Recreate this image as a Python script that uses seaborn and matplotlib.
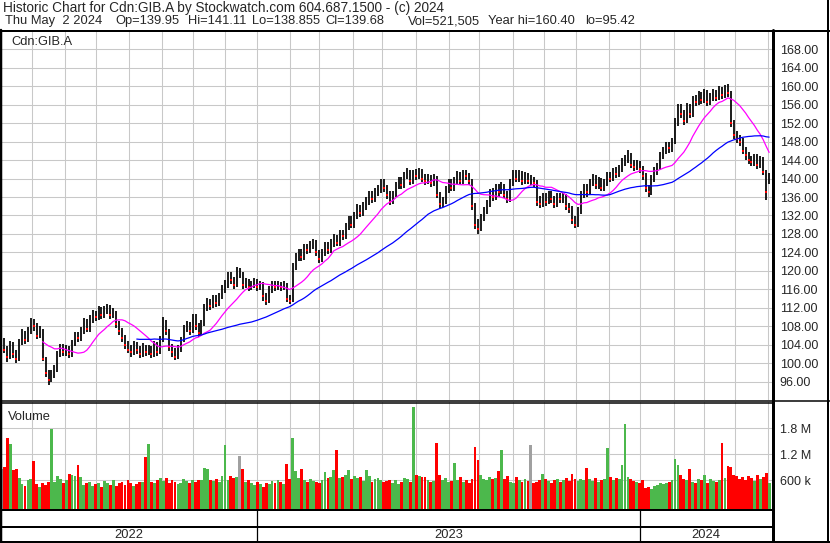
# Stockwatch style historic chart for Cdn:GIB.A (two-day bars)
import numpy as np
import pandas as pd
import seaborn as sns
import matplotlib.pyplot as plt
from matplotlib.lines import Line2D

# === DATA (one bar per two trading days) ===
closes = [
    105, 103, 101.5, 104, 102, 101, 104.5, 106.5, 105, 107,
    109, 108, 106, 107, 101, 98, 96.5, 97.5, 98.5, 102,
    103.5, 102.5, 103, 102, 104.5, 106, 105.5, 107, 109, 107.5,
    109.5, 110.5, 110, 111.5, 110.5, 111.5, 112, 110.5, 111, 108.5,
    107, 105.5, 104, 103, 102.5, 104, 103, 102, 103.5, 102.5,
    103, 102, 104, 102.5, 105, 108.5, 107, 103.5, 102.5, 101.5,
    103, 105, 107.5, 108, 107, 110, 108, 106.5, 108.5, 112,
    113, 112.5, 114, 113, 114.5, 116, 117, 119, 118, 117,
    119.5, 119.5, 117, 117.5, 116.5, 117, 117.5, 116.5, 117, 114.5,
    113.5, 116, 117, 116.5, 117, 116.5, 117, 114, 113.5, 121,
    123, 124, 123, 125, 124.5, 125.5, 126, 124, 122.5, 124,
    125.5, 124.5, 126, 127, 126, 128, 127.5, 129.5, 131, 130,
    132, 133.5, 132.5, 134, 135, 136.5, 135.5, 137, 137.5, 139,
    138, 136.5, 135, 136.5, 138.5, 139.5, 138.5, 140.5, 141, 139.5,
    141, 140.5, 141.5, 140, 139.5, 140, 139, 140, 136.5, 134.5,
    135, 137.5, 139, 138, 139.5, 140.5, 139.5, 141, 140.5, 139.5,
    134, 130, 129, 131.5, 133, 134.5, 137, 136, 138, 137,
    138.5, 136.5, 135.5, 139, 141, 140, 141, 139.5, 140.5, 139.5,
    139.5, 139, 135, 134.5, 136, 135, 136.5, 135.5, 134.5, 136,
    135.5, 136, 134, 133.5, 131, 130, 133, 136.5, 138, 137,
    139, 140, 138.5, 139.5, 138, 139, 140.5, 140, 141.5, 141,
    142, 143.5, 144, 145, 143, 142.5, 143, 142, 140.5, 138,
    137, 140, 141.5, 142.5, 145, 146, 147, 146.5, 148, 152,
    155, 154, 152.5, 155.5, 154, 157, 156.5, 158, 157, 158.5,
    156.5, 157.5, 158.5, 157.5, 159, 158, 159.5, 158.5, 152, 149.5,
    148.5, 148, 146, 145, 144, 143.5, 144.5, 143, 144, 141.5,
    137, 139.68,
]
highs = [
    106.5, 105.6, 103.8, 104.8, 104.6, 102.9, 105.2, 107.4, 107.1, 107.9,
    109.8, 109.6, 108.7, 108.1, 107.4, 101.5, 98.6, 98.5, 99.6, 102.8,
    104.3, 104.2, 104.1, 103.8, 105.1, 106.9, 106.8, 107.8, 109.9, 109.7,
    110.4, 111.6, 111.3, 112.4, 112.2, 112.5, 112.9, 112.6, 112.1, 111.4,
    109.2, 107.6, 106.2, 104.9, 103.9, 104.8, 104.7, 103.8, 104.4, 104.1,
    104.0, 103.7, 104.9, 104.6, 105.9, 110.0, 109.3, 107.4, 104.2, 103.3,
    103.9, 105.8, 108.3, 109.1, 108.9, 110.8, 110.6, 108.7, 109.4, 112.8,
    114.1, 113.9, 114.9, 114.8, 115.3, 116.9, 118.1, 119.8, 119.7, 118.8,
    120.9, 120.6, 119.8, 118.4, 118.3, 117.9, 118.4, 118.2, 117.9, 117.6,
    115.2, 116.8, 117.9, 117.8, 117.9, 117.7, 117.8, 117.4, 114.8, 121.8,
    123.9, 124.8, 124.7, 125.8, 125.9, 126.4, 126.9, 126.6, 124.6, 124.8,
    126.3, 126.2, 126.9, 127.9, 127.8, 128.8, 128.9, 130.3, 131.9, 131.8,
    132.8, 134.4, 134.2, 134.9, 135.9, 137.3, 137.2, 137.9, 138.6, 139.9,
    139.8, 138.7, 137.2, 137.3, 139.3, 140.4, 140.3, 141.3, 142.2, 141.8,
    141.9, 142.1, 142.3, 142.1, 140.9, 140.9, 140.8, 140.9, 140.6, 137.1,
    136.1, 138.3, 139.9, 139.8, 140.3, 141.6, 141.3, 141.9, 141.8, 141.2,
    139.9, 134.6, 131.2, 132.4, 133.9, 135.4, 137.8, 137.9, 138.9, 138.8,
    139.3, 138.9, 137.2, 139.9, 141.8, 141.9, 141.9, 141.6, 141.3, 141.2,
    140.8, 140.4, 139.6, 136.2, 136.9, 136.8, 137.4, 137.2, 136.3, 136.9,
    136.8, 136.9, 136.6, 134.8, 134.1, 131.8, 133.8, 137.3, 138.9, 138.8,
    139.8, 140.9, 140.7, 140.3, 140.2, 139.8, 141.3, 141.4, 142.3, 142.4,
    142.9, 144.4, 145.1, 146.1, 145.6, 143.9, 143.9, 143.7, 142.6, 141.1,
    138.7, 140.8, 142.4, 143.3, 145.8, 146.9, 147.8, 147.9, 148.8, 153.1,
    156.2, 156.1, 154.8, 156.4, 156.2, 157.9, 158.1, 158.9, 158.8, 159.4,
    159.1, 158.4, 159.3, 159.2, 159.9, 159.8, 160.2, 160.4, 158.9, 152.6,
    150.3, 149.4, 148.7, 146.8, 145.7, 144.9, 145.3, 145.2, 144.9, 144.6,
    141.9, 141.11,
]
lows = [
    103.8, 102.2, 100.4, 100.9, 101.2, 100.2, 100.6, 103.9, 104.2, 104.6,
    106.4, 107.1, 105.3, 105.4, 100.6, 97.1, 95.42, 95.9, 96.9, 98.1,
    101.3, 101.6, 101.7, 101.1, 101.5, 103.8, 104.6, 104.9, 106.3, 106.7,
    106.9, 108.8, 109.1, 109.3, 109.6, 109.8, 110.7, 109.7, 109.8, 107.7,
    106.1, 104.6, 103.1, 102.2, 101.5, 101.9, 102.1, 101.2, 101.4, 101.6,
    101.8, 101.1, 101.5, 101.7, 102.0, 104.6, 106.1, 102.6, 101.4, 100.8,
    101.0, 102.4, 104.6, 106.8, 106.2, 106.6, 107.2, 105.7, 106.0, 108.1,
    111.3, 111.6, 111.9, 112.2, 112.4, 113.9, 115.3, 116.4, 117.2, 116.1,
    116.6, 118.4, 116.2, 116.3, 115.7, 115.8, 116.3, 115.6, 115.8, 113.6,
    112.6, 113.1, 115.3, 115.6, 115.8, 115.7, 115.9, 113.2, 112.8, 113.3,
    120.3, 122.2, 122.1, 122.4, 123.6, 123.8, 124.7, 123.2, 121.8, 121.9,
    123.3, 123.7, 123.9, 125.2, 125.3, 125.5, 126.7, 126.9, 128.8, 129.2,
    129.4, 131.3, 131.7, 131.9, 133.2, 134.3, 134.7, 134.9, 136.2, 136.8,
    137.1, 135.6, 134.2, 134.4, 135.9, 137.8, 137.7, 137.9, 139.8, 138.7,
    138.9, 139.7, 139.8, 139.2, 138.7, 138.8, 138.2, 138.4, 135.7, 133.6,
    133.9, 134.4, 136.8, 137.2, 137.4, 138.8, 138.7, 138.9, 139.6, 138.7,
    133.2, 129.1, 128.0, 128.6, 130.8, 132.3, 133.9, 135.2, 135.4, 136.1,
    136.6, 135.8, 134.6, 135.0, 138.4, 139.2, 139.3, 138.7, 138.9, 138.8,
    138.6, 138.2, 134.1, 133.6, 133.9, 134.1, 134.4, 134.7, 133.7, 133.8,
    134.6, 134.8, 133.2, 132.6, 130.2, 129.3, 129.6, 132.4, 135.8, 136.1,
    136.4, 138.3, 137.7, 137.8, 137.3, 137.4, 138.4, 139.2, 139.4, 140.2,
    140.3, 141.3, 142.8, 143.3, 142.2, 141.6, 141.8, 141.2, 139.6, 137.1,
    136.1, 136.5, 139.3, 140.8, 141.9, 144.3, 145.2, 145.6, 145.8, 147.4,
    151.3, 153.1, 151.6, 151.9, 153.1, 153.4, 155.6, 155.8, 156.1, 156.3,
    155.6, 155.8, 156.8, 156.7, 156.9, 157.2, 157.4, 157.7, 151.2, 148.6,
    147.6, 147.1, 145.2, 144.1, 143.2, 142.6, 142.8, 142.1, 142.3, 140.7,
    135.3, 138.855,
]
volumes_k = [
    850, 900, 1580, 1420, 820, 850, 650, 500, 460, 600,
    620, 1050, 500, 450, 520, 480, 550, 1770, 560, 700,
    620, 520, 600, 750, 720, 700, 950, 680, 480, 520,
    560, 470, 500, 540, 450, 580, 520, 490, 610, 470,
    520, 560, 480, 600, 530, 470, 510, 560, 550, 1120,
    1440, 560, 520, 600, 640, 580, 650, 520, 610, 560,
    500, 540, 620, 580, 530, 600, 560, 610, 590, 880,
    860, 600, 580, 620, 560, 700, 1400, 600, 700, 650,
    680, 1160, 850, 560, 600, 520, 480, 560, 500, 450,
    540, 500, 580, 520, 610, 560, 500, 980, 620, 1560,
    800, 650, 850, 600, 560, 620, 580, 560, 520, 600,
    780, 650, 660, 840, 1300, 640, 660, 720, 830, 620,
    700, 640, 660, 580, 830, 700, 560, 620, 650, 600,
    560, 580, 600, 520, 600, 500, 560, 650, 620, 560,
    2280, 720, 700, 680, 660, 600, 560, 580, 1460, 720,
    600, 640, 560, 580, 1000, 600, 660, 560, 600, 540,
    620, 1370, 1070, 720, 620, 600, 660, 620, 640, 810,
    1300, 620, 700, 560, 540, 660, 600, 560, 620, 580,
    1400, 520, 560, 600, 740, 620, 580, 540, 600, 620,
    560, 600, 640, 580, 740, 620, 580, 620, 600, 880,
    620, 580, 640, 560, 600, 620, 1350, 680, 600, 640,
    620, 950, 1900, 660, 620, 580, 560, 540, 600, 420,
    440, 400, 460, 480, 520, 500, 540, 560, 600, 1090,
    950, 720, 620, 600, 860, 560, 520, 620, 600, 720,
    540, 620, 580, 560, 600, 1460, 640, 930, 900, 720,
    700, 620, 660, 600, 700, 640, 580, 720, 620, 660,
    760, 520,
]
price_ticks = list(range(96, 169, 4))
volume_ticks = [600, 1200, 1800]
volume_labels = ["600 k", "1.2 M", "1.8 M"]
years = ["2022", "2023", "2024"]

header_1 = "Historic Chart for Cdn:GIB.A by Stockwatch.com 604.687.1500 - (c) 2024"
header_2 = ["Thu May  2 2024", "Op=139.95", "Hi=141.11", "Lo=138.855",
            "Cl=139.68", "Vol=521,505", "Year hi=160.40", "lo=95.42"]
header_2_x = [5, 115, 188, 252, 325, 408, 488, 585]

# === PREP ===
days = pd.bdate_range("2022-05-02", "2024-05-02")
bar_x = np.arange(len(days) - 1, -1, -2)[::-1]

df = pd.DataFrame({"x": bar_x, "close": closes, "high": highs,
                   "low": lows, "vol": volumes_k})
df["ma_short"] = df["close"].rolling(15).mean()
df["ma_long"] = df["close"].rolling(47).mean()
chg = df["close"].diff().fillna(0)
df["vcolor"] = np.where(chg > 0, "#4cb84c", np.where(chg < 0, "#ff0000", "#a0a0a0"))

month_x = [days.searchsorted(m) for m in pd.date_range("2022-06-01", "2024-05-01", freq="MS")]
year_x = [days.searchsorted(pd.Timestamp("2023-01-01")), days.searchsorted(pd.Timestamp("2024-01-01"))]

# === FIGURE ===
sns.set_style("white")
plt.rcParams["font.family"] = ["Liberation Sans", "DejaVu Sans"]

W, H = 830, 543
fig = plt.figure(figsize=(W / 100, H / 100), dpi=100)


def box(x0, y0, x1, y1):
    return [x0 / W, 1 - y1 / H, (x1 - x0) / W, (y1 - y0) / H]


def fline(xs, ys, px):
    fig.add_artist(Line2D([x / W for x in xs], [1 - y / H for y in ys],
                          color="black", lw=px * 0.72, transform=fig.transFigure))


XMAX = 772 / 1.4706
grid_kw = dict(color="#c8c8c8", lw=0.75)

# --- price panel ---
ax = fig.add_axes(box(0, 31, 772, 400))
ax.set_xlim(0, XMAX)
ax.set_ylim(92.1, 171.9)
ax.vlines(df["x"], df["low"], df["high"], color="black", lw=1.25, zorder=3)
down = df[chg < 0]
sns.scatterplot(data=down, x="x", y="close", color="#ff0000", marker="s", s=3,
                linewidth=0, ax=ax, zorder=4, legend=False)
sns.lineplot(data=df.dropna(subset=["ma_short"]), x="x", y="ma_short", color="#ff00ff",
             lw=0.9, estimator=None, sort=False, ax=ax, zorder=5)
sns.lineplot(data=df.dropna(subset=["ma_long"]), x="x", y="ma_long", color="#0000ff",
             lw=0.9, estimator=None, sort=False, ax=ax, zorder=5)
ax.set_xticks(month_x)
ax.set_yticks(price_ticks)
ax.set_yticklabels([f"{t:.2f}" for t in price_ticks])
ax.yaxis.tick_right()
ax.tick_params(axis="x", length=0, labelbottom=False)
ax.tick_params(axis="y", length=0, pad=5.5, labelsize=9)
ax.grid(True, **grid_kw)
ax.set_axisbelow(True)
ax.set_xlabel("")
ax.set_ylabel("")
for s in ax.spines.values():
    s.set_visible(False)
ax.text(8, 169.6, "Cdn:GIB.A", fontsize=9.3, va="center", ha="left")

# --- volume panel ---
axv = fig.add_axes(box(0, 402, 772, 510))
axv.set_xlim(0, XMAX)
axv.set_ylim(-92, 2400)
axv.bar(df["x"], df["vol"] + 92, bottom=-92, width=1.9, color=df["vcolor"], linewidth=0, zorder=3)
axv.set_xticks(month_x)
axv.set_yticks(volume_ticks)
axv.set_yticklabels(volume_labels)
axv.yaxis.tick_right()
axv.tick_params(axis="x", length=0, labelbottom=False)
axv.tick_params(axis="y", length=0, pad=5.5, labelsize=9)
axv.grid(True, **grid_kw)
axv.set_axisbelow(True)
for s in axv.spines.values():
    s.set_visible(False)
axv.text(0.01, 0.86, "Volume", transform=axv.transAxes, fontsize=9.3, va="center")

# --- year strip ---
axy = fig.add_axes(box(0, 510, 772, 541))
axy.set_xlim(0, XMAX)
axy.set_ylim(0, 1)
axy.axis("off")
for xv in year_x:
    axy.axvline(xv, color="black", lw=0.9)
edges = [0] + year_x + [XMAX]
for i, yr in enumerate(years):
    axy.text((edges[i] + edges[i + 1]) / 2, 0.2, yr, ha="center", va="center", fontsize=9.3)

# --- header ---
fig.text(3 / W, 1 - 8 / H, header_1, fontsize=9.8, va="center", ha="left")
for xx, t in zip(header_2_x, header_2):
    fig.text(xx / W, 1 - 21 / H, t, fontsize=9.3, va="center", ha="left")

# --- frame lines ---
fline([0, 830], [30.5, 30.5], 2)
fline([1, 1], [30, 543], 2.5)
fline([827.5, 827.5], [0, 543], 2)
fline([773, 773], [30, 542], 3)
fline([0, 830], [400.5, 400.5], 1.5)
fline([0, 773], [402.8, 402.8], 1.5)
fline([0, 773], [510, 510], 2)
fline([0, 773], [527, 527], 2)
fline([0, 830], [541.5, 541.5], 2)

fig.savefig("out.png", dpi=100)
